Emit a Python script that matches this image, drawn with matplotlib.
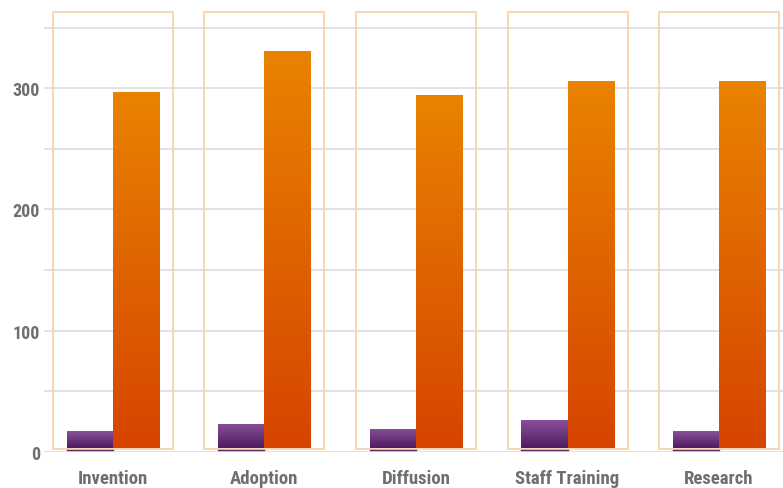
import numpy as np
import matplotlib.pyplot as plt
from matplotlib import font_manager
from matplotlib.colors import LinearSegmentedColormap
from matplotlib.patches import Rectangle

categories = ["Invention", "Adoption", "Diffusion", "Staff Training", "Research"]
purple_vals = [17, 23, 19, 26, 17]
orange_vals = [297, 331, 294, 306, 306]
yticks = [0, 100, 200, 300]

# pick a condensed face if one is around
names = {f.name for f in font_manager.fontManager.ttflist}
family = next(n for n in ["Roboto Condensed", "Liberation Sans Narrow", "Roboto", "DejaVu Sans"] if n in names)

fig = plt.figure(figsize=(7.83, 4.89), dpi=100)
ax = fig.add_axes([44 / 783, 1 - 453 / 489, 739 / 783, 453 / 489])

ax.set_xlim(-0.455, 4.422)
ax.set_ylim(0, 373.5)

for y in np.arange(0, 400, 50):
    ax.axhline(y, color="#e2e2e2", lw=1.4, zorder=0)

orange_cmap = LinearSegmentedColormap.from_list("og", ["#d64400", "#e98300"])
purple_cmap = LinearSegmentedColormap.from_list("pp", ["#4e1c5e", "#8a509b"])

base = 3
bar_w = 0.304
grad = np.linspace(0, 1, 256).reshape(-1, 1)

for i, (p, o) in enumerate(zip(purple_vals, orange_vals)):
    # category frame
    ax.add_patch(Rectangle((i - 0.396, 2.5), 0.792, 360, fill=False,
                           ec="#fad3aa", lw=1.3, zorder=1))
    for x0, val, cmap in [(i - bar_w, p, purple_cmap), (i, o, orange_cmap)]:
        rect = Rectangle((x0, base), bar_w, val - base, fc="none", ec="none")
        ax.add_patch(rect)
        im = ax.imshow(grad, cmap=cmap, origin="lower", aspect="auto",
                       extent=(x0, x0 + bar_w, base, val), zorder=2)
        im.set_clip_path(rect)
    ax.plot([i - bar_w, i], [1.6, 1.6], color="#5a2a6a", lw=1, zorder=2)

ax.set_xticks(range(len(categories)))
ax.set_xticklabels(categories, family=family, fontweight="bold",
                   fontsize=13.5, color="#6f6f6f")
ax.set_yticks(yticks)
ax.set_yticklabels([str(t) for t in yticks], family=family, fontweight="bold",
                   fontsize=13, color="#6f6f6f")
ax.tick_params(axis="x", length=0, pad=12.5)
ax.tick_params(axis="y", length=0, pad=3)
for s in ax.spines.values():
    s.set_visible(False)

fig.savefig("out.png", dpi=100)
